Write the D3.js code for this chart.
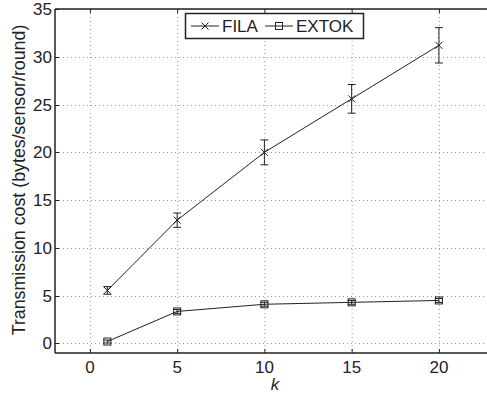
<!DOCTYPE html>
<html>
<head>
  <meta charset="utf-8">
  <script src="https://d3js.org/d3.v7.min.js"></script>
  <style>
    body { margin: 0; background: #fff; }
    text { font-family: "Liberation Sans", Arial, sans-serif; }
  </style>
</head>
<body>
<div id="vis"></div>
<script>
  var kValues = [1, 5, 10, 15, 20];
  var filaMean = [5.55, 12.9, 20.0, 25.6, 31.2];
  var filaErr = [0.4, 0.75, 1.3, 1.5, 1.85];
  var extokMean = [0.2, 3.35, 4.1, 4.3, 4.5];
  var extokErr = [0.15, 0.2, 0.2, 0.2, 0.2];
  var xTicks = [0, 5, 10, 15, 20];
  var yTicks = [0, 5, 10, 15, 20, 25, 30, 35];

  var W = 487, H = 397;
  var margin = { top: 9, left: 55, bottom: 44 };
  var fs = 17;
  var svg = d3.select('#vis').append('svg').attr('width', W).attr('height', H);

  var x = d3.scaleLinear().domain([-2, 24]).range([margin.left, margin.left + 26 * 17.45]);
  var y = d3.scaleLinear().domain([-1, 35]).range([H - margin.bottom, margin.top]);

  var x0 = x.range()[0], x1 = x.range()[1];
  var y0 = y.range()[0], y1 = y.range()[1];

  // grid
  var grid = svg.append('g').attr('stroke', '#999').attr('stroke-width', 1).attr('stroke-dasharray', '1,3');
  xTicks.forEach(function (t) {
    grid.append('line').attr('x1', x(t) + 0.5).attr('x2', x(t) + 0.5).attr('y1', y1).attr('y2', y0);
  });
  yTicks.forEach(function (t) {
    grid.append('line').attr('x1', x0).attr('x2', x1).attr('y1', Math.round(y(t)) + 0.5).attr('y2', Math.round(y(t)) + 0.5);
  });

  // axes (ticks inside)
  var ax = svg.append('g').attr('stroke', '#222');
  ax.append('line').attr('x1', x0).attr('x2', x1).attr('y1', y0).attr('y2', y0).attr('stroke-width', 1.5);
  ax.append('line').attr('x1', x0).attr('x2', x1).attr('y1', y1).attr('y2', y1).attr('stroke-width', 1.5);
  ax.append('line').attr('x1', x0).attr('x2', x0).attr('y1', y1).attr('y2', y0).attr('stroke-width', 1.5);
  xTicks.forEach(function (t) {
    ax.append('line').attr('x1', x(t) + 0.5).attr('x2', x(t) + 0.5).attr('y1', y0).attr('y2', y0 - 4);
    ax.append('line').attr('x1', x(t) + 0.5).attr('x2', x(t) + 0.5).attr('y1', y1).attr('y2', y1 + 4);
    svg.append('text').attr('x', x(t)).attr('y', y0 + 20).attr('text-anchor', 'middle')
      .attr('font-size', fs).attr('fill', '#222').text(t);
  });
  yTicks.forEach(function (t) {
    ax.append('line').attr('x1', x0).attr('x2', x0 + 4).attr('y1', Math.round(y(t)) + 0.5).attr('y2', Math.round(y(t)) + 0.5);
    svg.append('text').attr('x', x0 - 3).attr('y', y(t) + 6).attr('text-anchor', 'end')
      .attr('font-size', fs).attr('fill', '#222').text(t);
  });

  svg.append('text').attr('x', 275).attr('y', 390).attr('text-anchor', 'middle')
    .attr('font-size', fs).attr('font-style', 'italic').attr('fill', '#222').text('k');
  svg.append('text').attr('transform', 'translate(25,180) rotate(-90)')
    .attr('text-anchor', 'middle').attr('font-size', 17.8).attr('fill', '#222')
    .text('Transmission cost (bytes/sensor/round)');

  function series(means, errs, marker) {
    var pts = kValues.map(function (k, i) { return { k: k, m: means[i], e: errs[i] }; });
    var g = svg.append('g').attr('stroke', '#222').attr('fill', 'none');
    g.append('path').attr('d', d3.line().x(function (d) { return x(d.k); }).y(function (d) { return y(d.m); })(pts))
      .attr('stroke-width', 1);
    pts.forEach(function (d) {
      var cx = x(d.k), top = y(d.m + d.e), bot = y(d.m - d.e);
      g.append('line').attr('x1', cx).attr('x2', cx).attr('y1', top).attr('y2', bot);
      g.append('line').attr('x1', cx - 4).attr('x2', cx + 4).attr('y1', top).attr('y2', top);
      g.append('line').attr('x1', cx - 4).attr('x2', cx + 4).attr('y1', bot).attr('y2', bot);
      marker(g, cx, y(d.m));
    });
  }
  function cross(g, cx, cy) {
    g.append('path').attr('d', 'M' + (cx - 3.5) + ',' + (cy - 3.5) + 'L' + (cx + 3.5) + ',' + (cy + 3.5) +
      'M' + (cx - 3.5) + ',' + (cy + 3.5) + 'L' + (cx + 3.5) + ',' + (cy - 3.5));
  }
  function square(g, cx, cy) {
    g.append('rect').attr('x', cx - 3.5).attr('y', cy - 3.5).attr('width', 7).attr('height', 7);
  }
  series(filaMean, filaErr, cross);
  series(extokMean, extokErr, square);

  // legend
  var lg = svg.append('g');
  lg.append('rect').attr('x', 185.5).attr('y', 13.5).attr('width', 178).attr('height', 25)
    .attr('fill', '#fff').attr('stroke', '#222').attr('stroke-width', 1.5);
  var lgItems = [{ name: 'FILA', x: 191, m: cross }, { name: 'EXTOK', x: 265, m: square }];
  lgItems.forEach(function (it) {
    var gg = lg.append('g').attr('stroke', '#222').attr('fill', 'none');
    gg.append('line').attr('x1', it.x).attr('x2', it.x + 28).attr('y1', 26).attr('y2', 26);
    it.m(gg, it.x + 14, 26);
    lg.append('text').attr('x', it.x + 31).attr('y', 32).attr('font-size', fs).attr('fill', '#222').text(it.name);
  });
</script>
</body>
</html>
